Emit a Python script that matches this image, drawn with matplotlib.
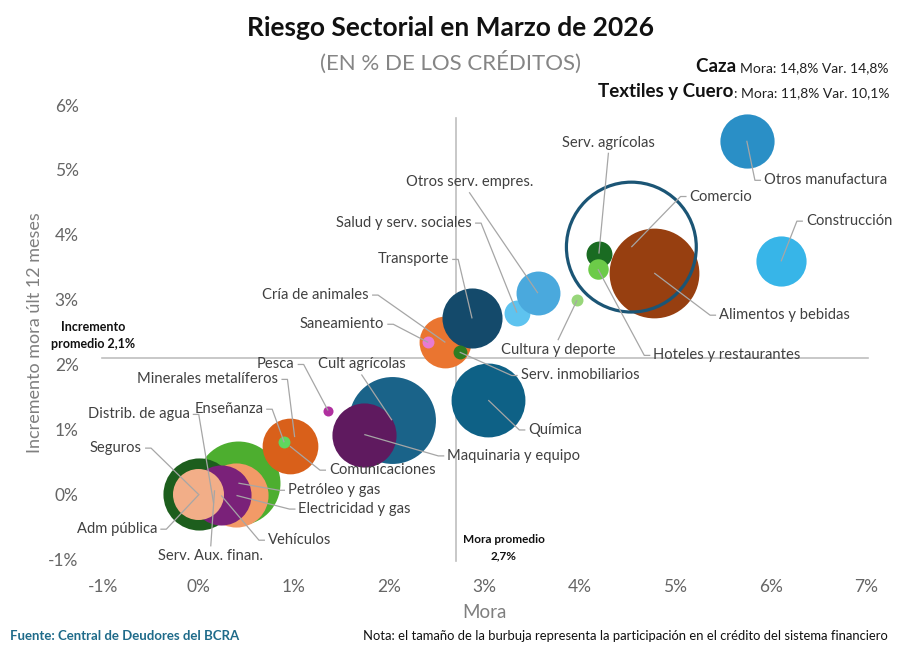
import numpy as np
import matplotlib
matplotlib.use('Agg')
import matplotlib.pyplot as plt
from matplotlib.offsetbox import TextArea, HPacker, VPacker, AnchoredOffsetbox

plt.rcParams['font.family'] = ['Lato', 'DejaVu Sans']

# sectores en orden de dibujo (los primeros quedan debajo)
sectores = ['Petróleo y gas', 'Electricidad y gas', 'Adm pública', 'Distrib. de agua',
            'Serv. Aux. finan.', 'Vehículos', 'Seguros', 'Comunicaciones',
            'Minerales metalíferos', 'Enseñanza', 'Pesca', 'Cult agrícolas',
            'Maquinaria y equipo', 'Química', 'Cría de animales', 'Saneamiento',
            'Transporte', 'Serv. inmobiliarios', 'Salud y serv. sociales',
            'Otros serv. empres.', 'Cultura y deporte', 'Alimentos y bebidas',
            'Serv. agrícolas', 'Hoteles y restaurantes', 'Comercio',
            'Otros manufactura', 'Construcción']

# mora (%)
mora = [0.42, 0.40, 0.01, 0.16, 0.17, 0.24, 0.00, 0.96, 1.01, 0.90, 1.36, 2.03,
        1.74, 3.04, 2.59, 2.41, 2.87, 2.74, 3.34, 3.56, 3.97, 4.78, 4.20, 4.19,
        4.54, 5.75, 6.11]

# incremento de la mora en los ultimos 12 meses (p.p.)
incremento = [0.17, -0.02, 0.00, -0.14, 0.06, -0.02, 0.00, 0.74, 0.88, 0.80, 1.29,
              1.14, 0.92, 1.45, 2.34, 2.34, 2.71, 2.19, 2.80, 3.10, 2.99, 3.41,
              3.71, 3.47, 3.81, 5.45, 3.59]

# participacion en el credito del sistema (%)
participacion = [8.4, 4.9, 6.2, 0.08, 0.08, 4.3, 3.1, 3.7, 0.08, 0.17, 0.12, 9.0,
                 4.9, 6.5, 3.2, 0.17, 4.3, 0.23, 0.8, 2.3, 0.17, 9.6, 0.8, 0.5,
                 20.1, 3.5, 3.0]

colores = ['#4dae2f', '#f29a67', '#1d5e1d', '#7a2179', '#7a2179', '#7a2179',
           '#f2ae88', '#d9601a', '#d9601a', '#5fd65f', '#b0309f', '#1a6389',
           '#5f1a5f', '#0e6186', '#ea7530', '#e77bd0', '#144a6b', '#2f7d22',
           '#5ec3ef', '#4aa9dd', '#98d67a', '#973f10', '#1a6b22', '#6ccb48',
           'none', '#2a8fc6', '#37b5e8']

mora_promedio = 2.7
incremento_promedio = 2.1

x_ticks = [-1, 0, 1, 2, 3, 4, 5, 6, 7]
y_ticks = [-1, 0, 1, 2, 3, 4, 5, 6]

# posicion de las etiquetas: (x, y, alineacion)
etiquetas = {
    'Serv. agrícolas': (4.30, 5.42, 'above'),
    'Otros manufactura': (5.93, 4.84, 'left'),
    'Comercio': (5.15, 4.59, 'left'),
    'Construcción': (6.37, 4.21, 'left'),
    'Alimentos y bebidas': (5.46, 2.76, 'left'),
    'Hoteles y restaurantes': (4.77, 2.14, 'left'),
    'Cultura y deporte': (3.77, 2.22, 'below'),
    'Otros serv. empres.': (2.84, 4.81, 'above'),
    'Salud y serv. sociales': (2.87, 4.18, 'right'),
    'Transporte': (2.63, 3.62, 'right'),
    'Cría de animales': (1.79, 3.07, 'right'),
    'Saneamiento': (1.95, 2.62, 'right'),
    'Serv. inmobiliarios': (3.38, 1.83, 'left'),
    'Química': (3.46, 0.99, 'left'),
    'Maquinaria y equipo': (2.61, 0.59, 'left'),
    'Cult agrícolas': (1.71, 2.00, 'above'),
    'Pesca': (1.01, 2.00, 'right'),
    'Minerales metalíferos': (0.84, 1.77, 'right'),
    'Enseñanza': (0.68, 1.31, 'right'),
    'Comunicaciones': (1.37, 0.37, 'left'),
    'Distrib. de agua': (-0.09, 1.23, 'right'),
    'Seguros': (-0.59, 0.71, 'right'),
    'Adm pública': (-0.43, -0.54, 'right'),
    'Serv. Aux. finan.': (0.13, -0.96, 'below'),
    'Vehículos': (0.73, -0.71, 'left'),
    'Petróleo y gas': (0.94, 0.06, 'left'),
    'Electricidad y gas': (1.05, -0.23, 'left'),
}

fig = plt.figure(figsize=(9, 6.53), dpi=100)
ax = fig.add_axes([0.1091, 0.134, 0.8584, 0.715])
ax.set_xlim(-1.05, 7.05)
ax.set_ylim(-1.1, 6.1)

# area de la burbuja proporcional a la participacion
area_por_pct = 435
tam = np.array(participacion) * area_por_pct
for i, s in enumerate(sectores):
    if colores[i] == 'none':
        ax.scatter(mora[i], incremento[i], s=tam[i], facecolors='none',
                   edgecolors='#1b5575', linewidths=2.3, zorder=3 + i * 0.01)
    else:
        ax.scatter(mora[i], incremento[i], s=tam[i], color=colores[i],
                   linewidths=0, zorder=3 + i * 0.01)

# lineas de promedio
ax.axhline(incremento_promedio, xmin=0.005, xmax=0.997, color='#bfbfbf', lw=1.2, zorder=2)
ax.axvline(mora_promedio, ymin=0.01, ymax=0.958, color='#bfbfbf', lw=1.2, zorder=2)

# conversion pixel -> datos para las lineas guia
pos = ax.get_position()
px_x = (7.05 + 1.05) / (pos.width * 900)
px_y = (6.1 + 1.1) / (pos.height * 653)
linea = '#a6a6a6'
fs_et = 10.6
for i, s in enumerate(sectores):
    tx, ty, modo = etiquetas[s]
    px, py = mora[i], incremento[i]
    if modo == 'left':
        ax.text(tx, ty, s, ha='left', va='center', fontsize=fs_et, color='#404040', zorder=10)
        xs = [tx - 3 * px_x, tx - 9 * px_x, px]
        ys = [ty, ty, py]
    elif modo == 'right':
        ax.text(tx, ty, s, ha='right', va='center', fontsize=fs_et, color='#404040', zorder=10)
        xs = [tx + 3 * px_x, tx + 9 * px_x, px]
        ys = [ty, ty, py]
    elif modo == 'above':
        ax.text(tx, ty, s, ha='center', va='center', fontsize=fs_et, color='#404040', zorder=10)
        xs = [tx, px]
        ys = [ty - 10 * px_y, py]
    else:
        ax.text(tx, ty, s, ha='center', va='center', fontsize=fs_et, color='#404040', zorder=10)
        xs = [tx, px]
        ys = [ty + 10 * px_y, py]
    ax.plot(xs, ys, color=linea, lw=0.9, zorder=9, solid_capstyle='butt')

ax.set_xticks(x_ticks)
ax.set_xticklabels([f'{t}%' for t in x_ticks])
ax.set_yticks(y_ticks)
ax.set_yticklabels([f'{t}%' for t in y_ticks])
ax.tick_params(length=0, labelsize=12.5, labelcolor='#666666')
ax.tick_params(axis='x', pad=10)
ax.tick_params(axis='y', pad=14)
for sp in ax.spines.values():
    sp.set_visible(False)

# textos de promedio
ax.text(-1.10, incremento_promedio + 0.35, 'Incremento\npromedio 2,1%', ha='center',
        va='center', fontsize=9, fontweight='bold', color='#111111', linespacing=1.5)
ax.text(mora_promedio + 0.5, -0.82, 'Mora promedio\n2,7%', ha='center', va='center',
        fontsize=8.5, fontweight='bold', color='#111111', linespacing=1.6)

# titulos y ejes
fig.text(0.501, 1 - 28 / 653, 'Riesgo Sectorial en Marzo de 2026', ha='center', va='center',
         fontsize=19, fontweight='bold', color='#111111')
fig.text(0.5, 1 - 62 / 653, '(EN % DE LOS CRÉDITOS)', ha='center', va='center',
         fontsize=16, color='#858585')
fig.text(484 / 900, 1 - 612 / 653, 'Mora', ha='center', va='center', fontsize=13.5,
         color='#7f7f7f')
fig.text(35 / 900, 1 - 333 / 653, 'Incremento mora últ 12 meses', ha='center', va='center',
         rotation=90, fontsize=13, color='#7f7f7f')

# sectores fuera de escala
def fila(negrita, resto):
    a = TextArea(negrita, textprops=dict(fontsize=13.5, fontweight='bold', color='#111111'))
    b = TextArea(resto, textprops=dict(fontsize=10, color='#222222'))
    return HPacker(children=[a, b], align='baseline', pad=0, sep=0)

caja = VPacker(children=[fila('Caza ', 'Mora: 14,8% Var. 14,8%'),
                         fila('Textiles y Cuero', ': Mora: 11,8% Var. 10,1%')],
               align='right', pad=0, sep=6)
anc = AnchoredOffsetbox(loc='upper right', child=caja, pad=0, frameon=False,
                        bbox_to_anchor=(889 / 900, 1 - 58 / 653),
                        bbox_transform=fig.transFigure, borderpad=0)
fig.add_artist(anc)

fig.text(10 / 900, 1 - 636 / 653, 'Fuente: Central de Deudores del BCRA', ha='left',
         va='center', fontsize=9.5, fontweight='bold', color='#1f6b8a')
fig.text(888 / 900, 1 - 636 / 653,
         'Nota: el tamaño de la burbuja representa la participación en el crédito del sistema financiero',
         ha='right', va='center', fontsize=9.4, color='#111111')

fig.savefig('out.png', dpi=100)
